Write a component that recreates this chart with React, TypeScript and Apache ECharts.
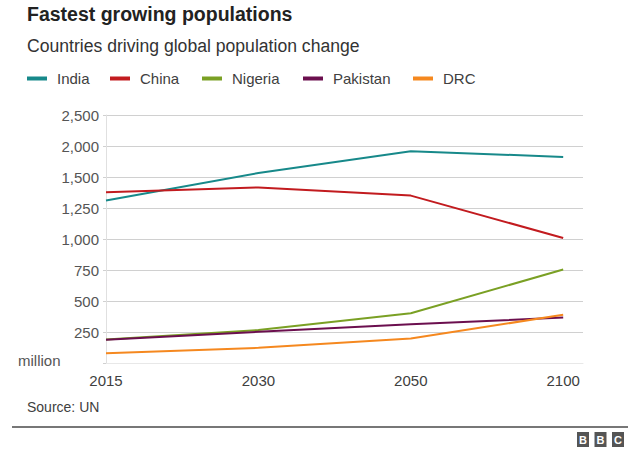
import React, { useEffect, useRef } from "react";
import * as echarts from "echarts";

const years = ["2015", "2030", "2050", "2100"];
const yTickLabels = ["", "250", "500", "750", "1,000", "1,250", "1,500", "2,000", "2,500"];
const seriesNames = ["India", "China", "Nigeria", "Pakistan", "DRC"];
const seriesColors = ["#17898a", "#c21b1f", "#7aa024", "#6b0f4e", "#f5881f"];
const india = [1311, 1532, 1708, 1662];
const china = [1378, 1416, 1350, 1008];
const nigeria = [190, 266, 401, 754];
const pakistan = [188, 252, 313, 366];
const drc = [79, 122, 197, 389];
const seriesValues = [india, china, nigeria, pakistan, drc];
const legendLeft = [27, 110, 202, 303, 413];

const FONT = "'Liberation Sans', Arial, Helvetica, sans-serif";

export default function App() {
  const ref = useRef<HTMLDivElement>(null);
  useEffect(() => {
    if (!ref.current) return;
    const chart = echarts.init(ref.current, null, { renderer: "svg" });
    const option: any = {
      animation: false,
      backgroundColor: "#ffffff",
      textStyle: { fontFamily: FONT },
      grid: { left: 106, right: 50, top: 115, bottom: 89 },
      legend: seriesNames.map((n, i) => ({
        data: [n],
        left: legendLeft[i],
        top: 71,
        icon: "rect",
        itemWidth: 20,
        itemHeight: 4,
        padding: 0,
        selectedMode: false,
        textStyle: { fontFamily: FONT, fontSize: 15, color: "#404040", padding: [0, 0, 0, 5] },
      })),
      xAxis: {
        type: "value",
        min: 0,
        max: 3.13,
        interval: 1,
        splitLine: { show: false },
        axisLine: { show: true, lineStyle: { color: "#e8e8e8", width: 1 } },
        axisTick: { show: false },
        axisLabel: {
          margin: 10,
          fontFamily: FONT,
          fontSize: 15,
          color: "#404040",
          formatter: (v: number) => (Number.isInteger(v) && years[v] ? years[v] : ""),
          showMaxLabel: true,
        },
      },
      yAxis: {
        type: "value",
        min: 0,
        max: 2000,
        interval: 250,
        axisLine: { show: true, lineStyle: { color: "#e0e0e0" } },
        axisTick: { show: true, length: 3, lineStyle: { color: "#d0d0d0" } },
        splitLine: { show: true, lineStyle: { color: "#d0d0d0", width: 1 } },
        axisLabel: {
          margin: 7,
          fontFamily: FONT,
          fontSize: 15,
          color: "#555555",
          formatter: (v: number) => yTickLabels[Math.round(v / 250)] ?? "",
        },
      },
      series: seriesNames.map((n, i) => ({
        name: n,
        type: "line",
        data: seriesValues[i].map((v, j) => [j, v]),
        symbol: "none",
        color: seriesColors[i],
        lineStyle: { width: 2, color: seriesColors[i] },
      })),
      graphic: [
        {
          type: "text",
          left: 27,
          top: 4,
          style: { text: "Fastest growing populations", font: `bold 19.5px ${FONT}`, fill: "#222222" },
        },
        {
          type: "text",
          left: 27,
          top: 37,
          style: { text: "Countries driving global population change", font: `17.6px ${FONT}`, fill: "#333333" },
        },
        {
          type: "text",
          left: 18,
          top: 353,
          style: { text: "million", font: `15px ${FONT}`, fill: "#555555" },
        },
        {
          type: "text",
          left: 27,
          top: 400,
          style: { text: "Source: UN", font: `14px ${FONT}`, fill: "#404040" },
        },
        {
          type: "line",
          shape: { x1: 12, y1: 427, x2: 628, y2: 427 },
          style: { stroke: "#777777", lineWidth: 2 },
        },
        ...["B", "B", "C"].flatMap((ch, i) => [
          {
            type: "rect",
            shape: { x: 577 + i * 17.5, y: 432, width: 12, height: 15 },
            style: { fill: "#555555" },
          },
          {
            type: "text",
            x: 577 + i * 17.5 + 6,
            y: 439.5,
            style: {
              text: ch,
              font: `bold 11px ${FONT}`,
              fill: "#ffffff",
              align: "center",
              verticalAlign: "middle",
            },
          },
        ]),
      ],
    };
    chart.setOption(option);
    return () => chart.dispose();
  }, []);
  return (
    <div
      ref={ref}
      style={{ position: "fixed", left: 0, top: 0, width: 633, height: 452 }}
    />
  );
}
